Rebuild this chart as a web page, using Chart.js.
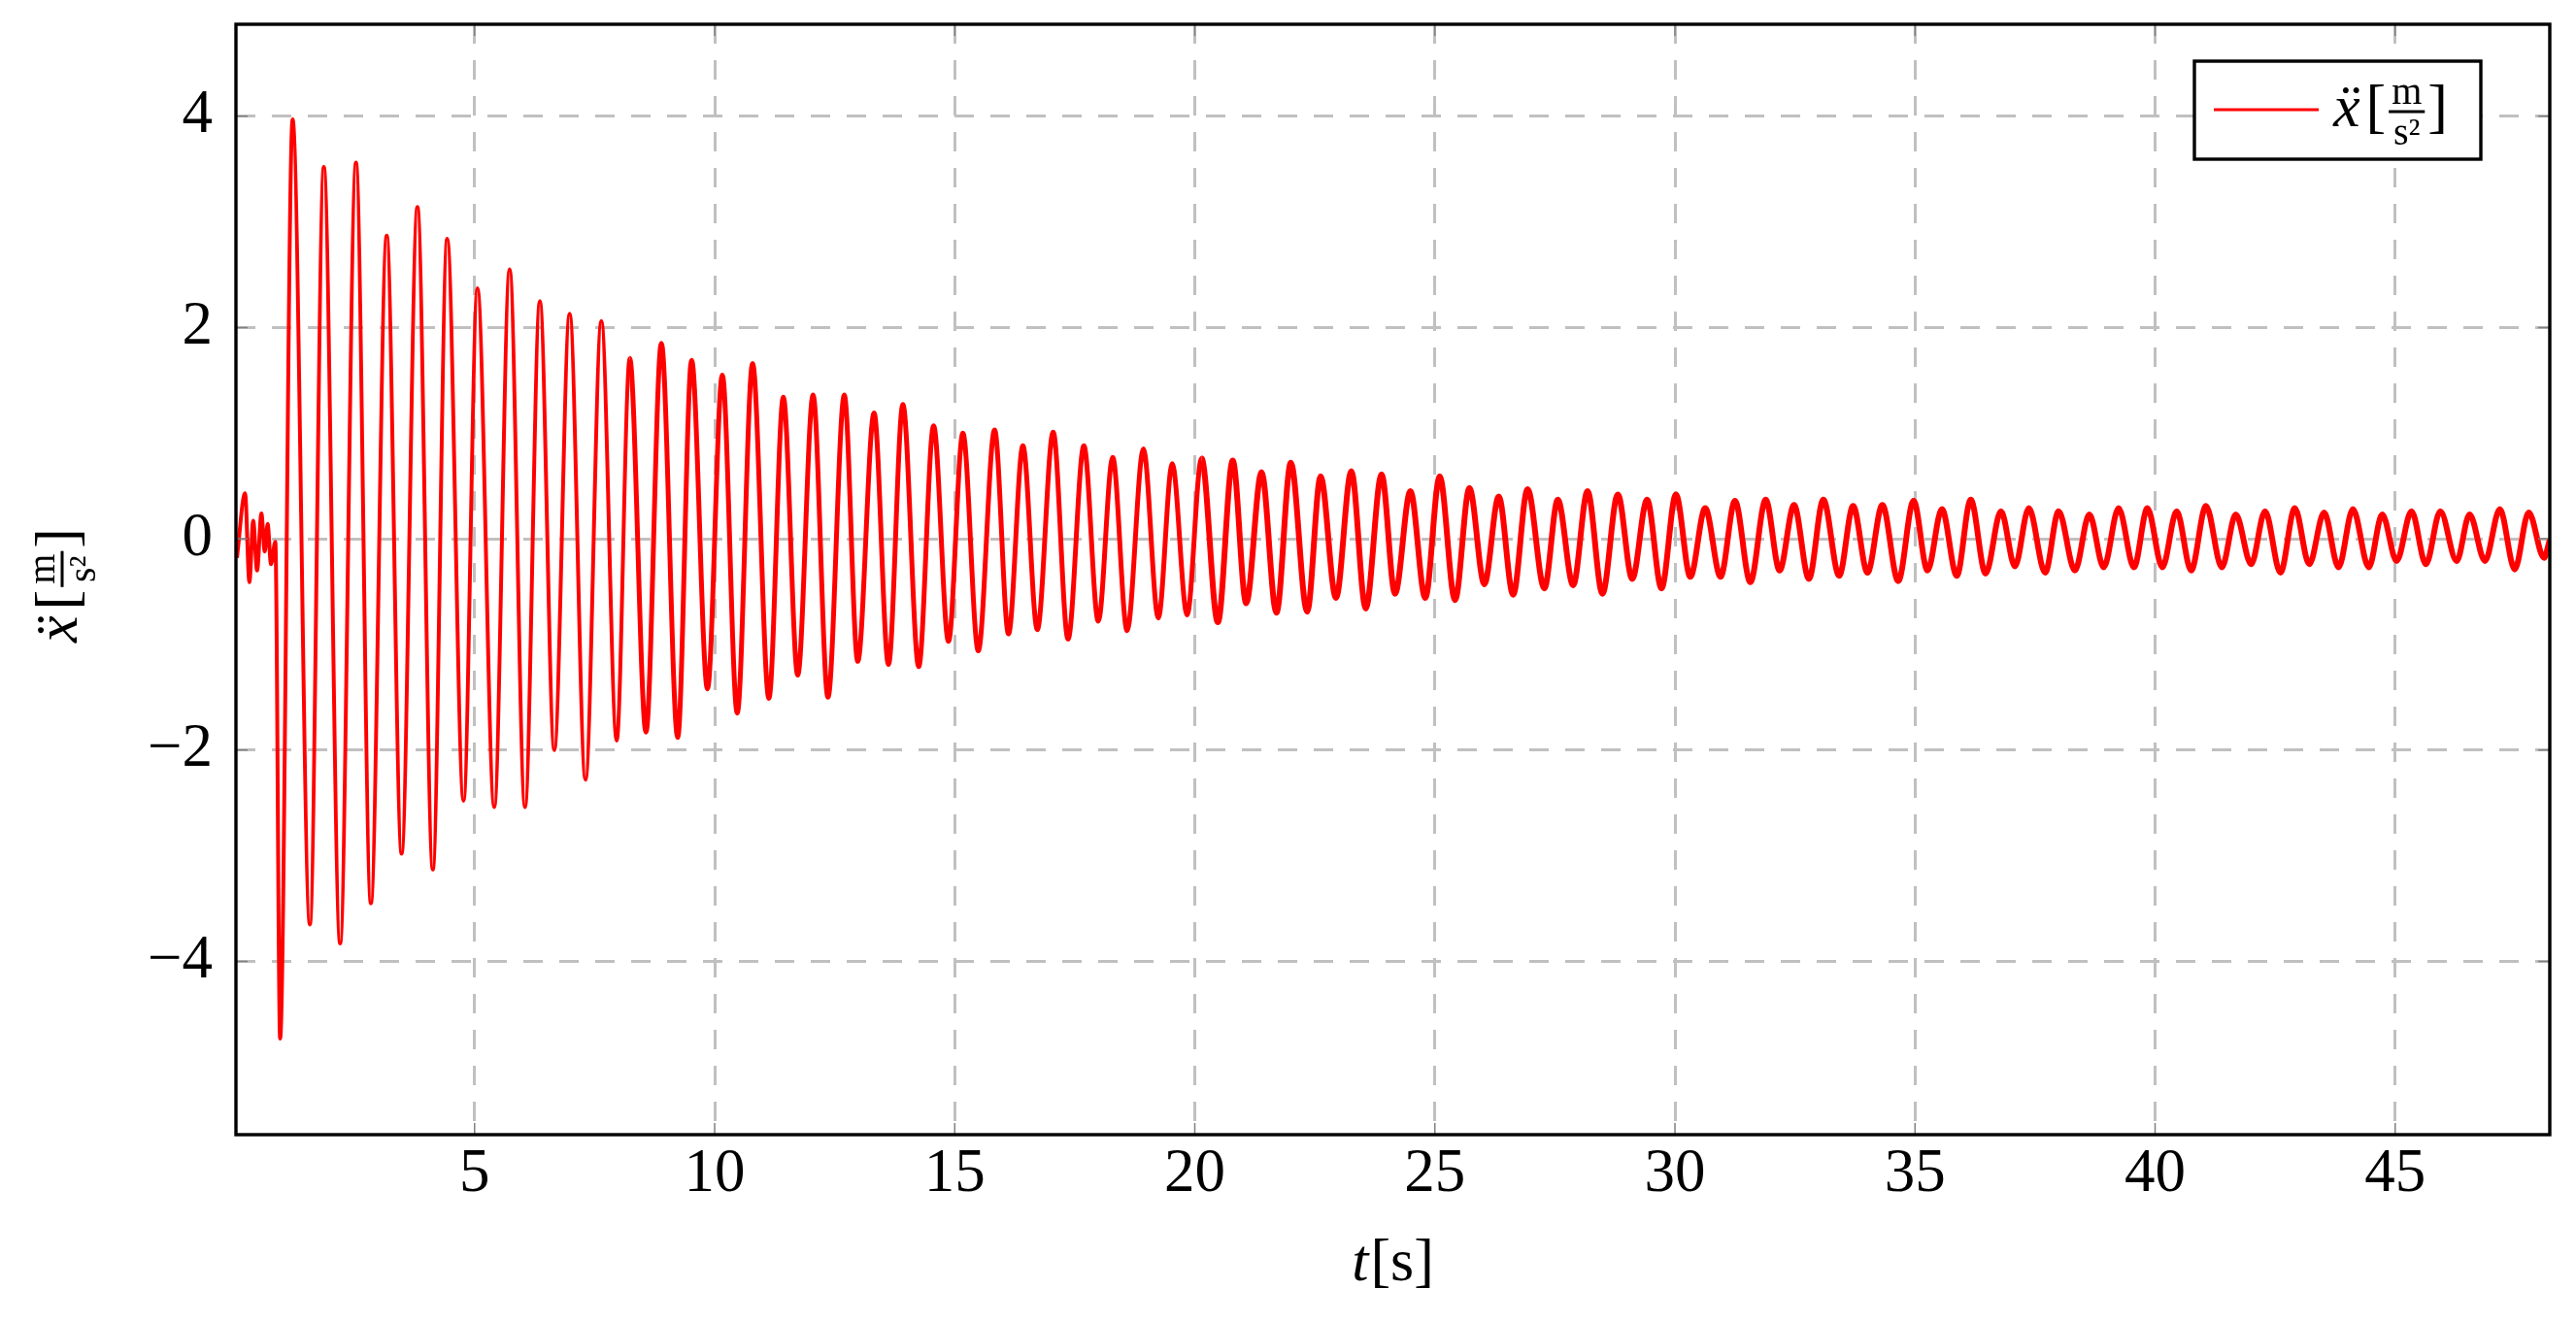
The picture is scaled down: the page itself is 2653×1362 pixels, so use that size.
<!DOCTYPE html>
<html>
<head>
<meta charset="utf-8">
<script src="https://cdn.jsdelivr.net/npm/chart.js@4.4.1/dist/chart.umd.min.js"></script>
<style>
  html, body { margin: 0; padding: 0; background: #fff; }
  canvas { display: block; }
</style>
</head>
<body>
<canvas id="accChart" width="2653" height="1362"></canvas>
<script>
// time stamps [s] of the turning points
const timeS = [
  0.05, 0.22, 0.31, 0.39, 0.47, 0.56, 0.63, 0.69, 0.76, 0.85,
  0.95, 1.21, 1.57, 1.86, 2.20, 2.53, 2.84, 3.17, 3.48, 3.81,
  4.13, 4.43, 4.77, 5.06, 5.41, 5.73, 6.05, 6.36, 6.66, 6.98,
  7.31, 7.64, 7.96, 8.23, 8.57, 8.89, 9.23, 9.52, 9.85, 10.16,
  10.47, 10.79, 11.13, 11.43, 11.73, 12.05, 12.36, 12.70, 12.98, 13.32,
  13.62, 13.92, 14.25, 14.56, 14.87, 15.17, 15.49, 15.83, 16.12, 16.42,
  16.72, 17.05, 17.36, 17.69, 17.99, 18.29, 18.59, 18.93, 19.24, 19.53,
  19.84, 20.14, 20.48, 20.79, 21.07, 21.39, 21.70, 22.00, 22.34, 22.62,
  22.94, 23.26, 23.56, 23.89, 24.17, 24.49, 24.80, 25.10, 25.42, 25.72,
  26.03, 26.33, 26.63, 26.93, 27.28, 27.56, 27.88, 28.18, 28.49, 28.81,
  29.11, 29.42, 29.72, 30.02, 30.32, 30.63, 30.95, 31.25, 31.57, 31.89,
  32.18, 32.48, 32.79, 33.09, 33.42, 33.71, 34.01, 34.32, 34.65, 34.97,
  35.26, 35.56, 35.87, 36.16, 36.47, 36.79, 37.08, 37.37, 37.71, 37.99,
  38.33, 38.63, 38.93, 39.24, 39.56, 39.84, 40.15, 40.45, 40.75, 41.06,
  41.39, 41.68, 42.00, 42.29, 42.61, 42.91, 43.21, 43.52, 43.82, 44.12,
  44.45, 44.73, 45.03, 45.34, 45.64, 45.94, 46.28, 46.55, 46.87, 47.18,
  47.49, 47.78, 48.10, 48.22
];

// acceleration [m/s^2] at those points
const accel = [
  -0.18, 0.43, -0.41, 0.17, -0.30, 0.24, -0.12, 0.14, -0.24, -0.03,
  -4.73, 3.97, -3.65, 3.52, -3.83, 3.56, -3.45, 2.87, -2.98, 3.14,
  -3.13, 2.84, -2.48, 2.37, -2.54, 2.55, -2.54, 2.25, -2.00, 2.13,
  -2.28, 2.06, -1.91, 1.71, -1.83, 1.85, -1.88, 1.69, -1.42, 1.55,
  -1.65, 1.66, -1.51, 1.34, -1.29, 1.36, -1.50, 1.36, -1.16, 1.19,
  -1.19, 1.27, -1.21, 1.07, -0.97, 1.00, -1.06, 1.03, -0.90, 0.88,
  -0.86, 1.01, -0.95, 0.88, -0.78, 0.77, -0.87, 0.85, -0.75, 0.71,
  -0.72, 0.76, -0.79, 0.74, -0.61, 0.63, -0.70, 0.72, -0.69, 0.59,
  -0.56, 0.64, -0.66, 0.61, -0.52, 0.45, -0.56, 0.59, -0.58, 0.48,
  -0.43, 0.40, -0.53, 0.47, -0.47, 0.37, -0.44, 0.45, -0.52, 0.42,
  -0.38, 0.37, -0.47, 0.42, -0.36, 0.29, -0.36, 0.36, -0.41, 0.37,
  -0.30, 0.32, -0.38, 0.37, -0.35, 0.31, -0.32, 0.32, -0.40, 0.36,
  -0.30, 0.28, -0.35, 0.37, -0.33, 0.26, -0.26, 0.29, -0.32, 0.26,
  -0.30, 0.23, -0.27, 0.29, -0.27, 0.29, -0.27, 0.26, -0.30, 0.31,
  -0.27, 0.23, -0.24, 0.26, -0.32, 0.29, -0.24, 0.25, -0.27, 0.28,
  -0.27, 0.23, -0.21, 0.26, -0.24, 0.26, -0.21, 0.23, -0.21, 0.28,
  -0.29, 0.25, -0.18, -0.01
];

const xTicks = [5, 10, 15, 20, 25, 30, 35, 40, 45];
const yTicks = [-4, -2, 0, 2, 4];
const seriesLabel = "ẍ";
const xTitle = ["t", "[s]"];

const FONT = "'Liberation Serif', 'DejaVu Serif', serif";

// draws  sym[ m / s² ]  with baseline at y, starting at x; returns width
function unitLabel(ctx, x, y, sym, draw) {
  const x0 = x;
  ctx.save();
  ctx.fillStyle = "#000";
  ctx.textAlign = "left";
  ctx.textBaseline = "alphabetic";
  ctx.font = "italic 62px " + FONT;
  if (draw) ctx.fillText(sym, x, y);
  x += ctx.measureText(sym).width + 6;
  ctx.font = "62px " + FONT;
  if (draw) ctx.fillText("[", x, y);
  x += ctx.measureText("[").width + 3;
  ctx.font = "40px " + FONT;
  const wm = ctx.measureText("m").width;
  const wd = ctx.measureText("s²").width;
  const wb = Math.max(wm, wd) + 6;
  const barY = y - 15;
  if (draw) {
    ctx.fillRect(x, barY - 1.5, wb, 3);
    ctx.fillText("m", x + (wb - wm) / 2, barY - 8);
    ctx.fillText("s²", x + (wb - wd) / 2, y + 19);
  }
  x += wb + 3;
  ctx.font = "62px " + FONT;
  if (draw) ctx.fillText("]", x, y);
  x += ctx.measureText("]").width;
  ctx.restore();
  return x - x0;
}

const decorPlugin = {
  id: "decor",
  afterDraw(chart) {
    const ctx = chart.ctx;
    const a = chart.chartArea;
    const xs = chart.scales.x, ys = chart.scales.y;

    // small inner tick marks
    ctx.save();
    ctx.strokeStyle = "#808080";
    ctx.lineWidth = 1.5;
    ctx.beginPath();
    xTicks.forEach(v => {
      const px = xs.getPixelForValue(v);
      ctx.moveTo(px, a.bottom); ctx.lineTo(px, a.bottom - 12);
      ctx.moveTo(px, a.top); ctx.lineTo(px, a.top + 12);
    });
    yTicks.forEach(v => {
      const py = ys.getPixelForValue(v);
      ctx.moveTo(a.left, py); ctx.lineTo(a.left + 12, py);
      ctx.moveTo(a.right, py); ctx.lineTo(a.right - 12, py);
    });
    ctx.stroke();
    ctx.restore();

    // axis frame
    ctx.save();
    ctx.strokeStyle = "#000";
    ctx.lineWidth = 3.4;
    ctx.strokeRect(a.left, a.top, a.right - a.left, a.bottom - a.top);
    ctx.restore();

    // x title
    ctx.save();
    ctx.fillStyle = "#000";
    ctx.textBaseline = "alphabetic";
    ctx.font = "italic 62px " + FONT;
    const w1 = ctx.measureText(xTitle[0]).width + 2;
    ctx.font = "62px " + FONT;
    const w2 = ctx.measureText(xTitle[1]).width;
    let tx = (a.left + a.right) / 2 - (w1 + w2) / 2;
    ctx.font = "italic 62px " + FONT;
    ctx.fillText(xTitle[0], tx, 1319);
    ctx.font = "62px " + FONT;
    ctx.fillText(xTitle[1], tx + w1, 1319);
    ctx.restore();

    // y title (rotated)
    const wy = unitLabel(ctx, 0, 0, seriesLabel, false);
    ctx.save();
    ctx.translate(79, 603);
    ctx.rotate(-Math.PI / 2);
    unitLabel(ctx, -wy / 2, 0, seriesLabel, true);
    ctx.restore();

    // legend
    const ds = chart.data.datasets[0];
    ctx.save();
    ctx.fillStyle = "#fff";
    ctx.fillRect(2260, 63, 295, 101);
    ctx.strokeStyle = "#000";
    ctx.lineWidth = 3.4;
    ctx.strokeRect(2260, 63, 295, 101);
    ctx.strokeStyle = ds.borderColor;
    ctx.lineWidth = 3;
    ctx.beginPath();
    ctx.moveTo(2280, 113); ctx.lineTo(2388, 113);
    ctx.stroke();
    ctx.restore();
    unitLabel(ctx, 2403, 130, ds.label, true);
  }
};

const gridStyle = { color: "#c0c0c0", lineWidth: 3, drawTicks: false };

new Chart(document.getElementById("accChart").getContext("2d"), {
  type: "line",
  data: {
    datasets: [{
      label: seriesLabel,
      data: timeS.map((t, i) => ({ x: t, y: accel[i] })),
      borderColor: "#ff0000",
      borderWidth: 4,
      // trace gets noisier (visually thicker) as the swing dies out
      segment: {
        borderWidth: c => (c.p0.parsed.x < 8 ? 4 : c.p0.parsed.x < 20 ? 5 : 6)
      },
      pointRadius: 0,
      fill: false,
      cubicInterpolationMode: "monotone"
    }]
  },
  options: {
    responsive: false,
    animation: false,
    devicePixelRatio: 1,
    layout: { padding: { left: 0, top: 25, right: 27, bottom: 0 } },
    plugins: { legend: { display: false }, tooltip: { enabled: false } },
    scales: {
      x: {
        type: "linear",
        min: 0.03,
        max: 48.22,
        afterBuildTicks: s => { s.ticks = xTicks.map(v => ({ value: v })); },
        afterFit: s => { s.height = 193; s.paddingLeft = 0; s.paddingRight = 0; },
        grid: gridStyle,
        border: { display: false, dash: [20, 17] },
        ticks: {
          color: "#000",
          font: { family: FONT, size: 63 },
          padding: 4,
          maxRotation: 0,
          autoSkip: false
        }
      },
      y: {
        type: "linear",
        min: -5.64,
        max: 4.87,
        afterBuildTicks: s => { s.ticks = yTicks.map(v => ({ value: v })); },
        afterFit: s => { s.width = 243; s.paddingTop = 0; s.paddingBottom = 0; },
        grid: gridStyle,
        border: { display: false, dash: [20, 17] },
        ticks: {
          color: "#000",
          font: { family: FONT, size: 63 },
          padding: 24,
          autoSkip: false,
          callback: v => String(v).replace("-", "\u2212")
        }
      }
    }
  },
  plugins: [decorPlugin]
});
</script>
</body>
</html>
